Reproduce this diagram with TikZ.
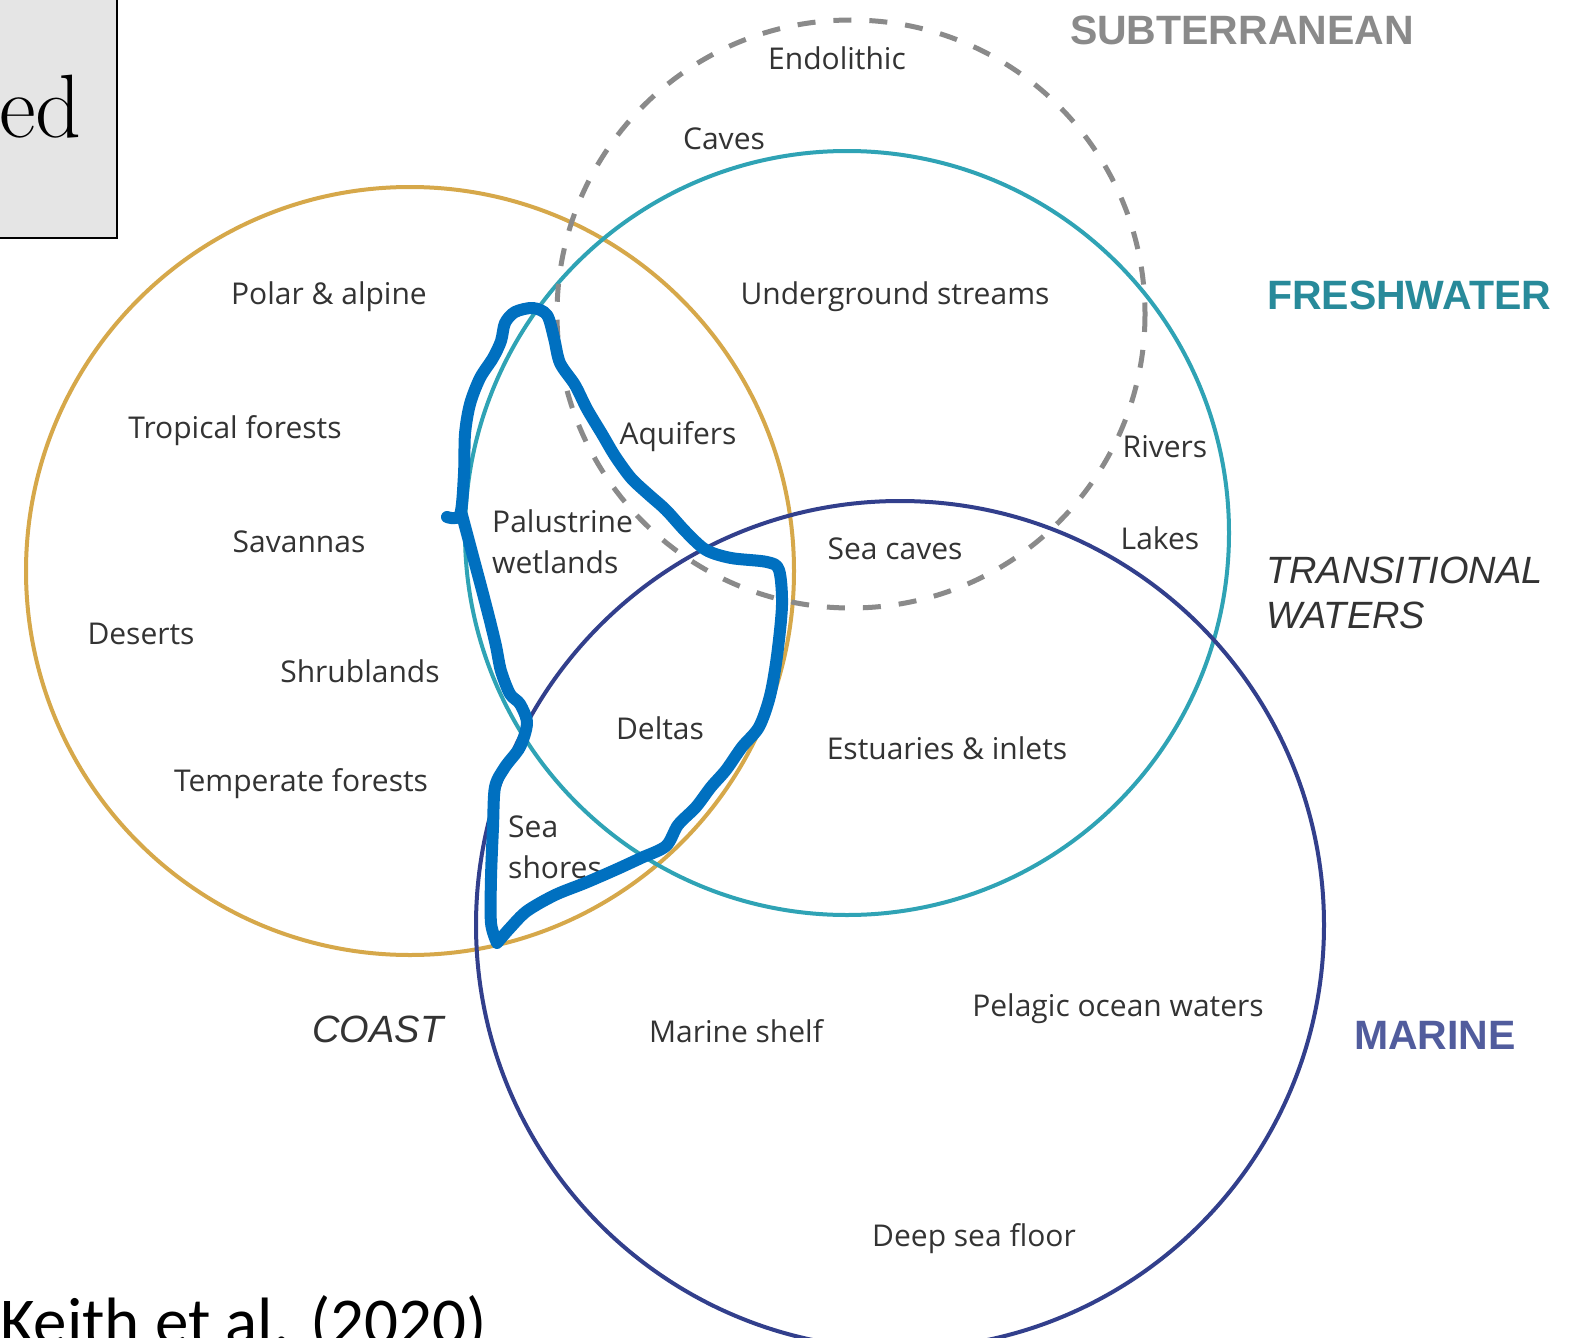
\documentclass[tikz,border=0pt]{standalone}
\usepackage{fontspec}
\usepackage{tikz}
\newfontfamily\labelfont{Open Sans}
\newfontfamily\headfont{Liberation Sans}
\newfontfamily\citefont{Carlito}
\definecolor{goldc}{HTML}{D6A84A}
\definecolor{tealc}{HTML}{2FA3B5}
\definecolor{navyc}{HTML}{323F8C}
\definecolor{cavec}{HTML}{8A8A8A}
\definecolor{penc}{HTML}{0070C0}
\definecolor{textc}{HTML}{333333}
\tikzset{
  biome/.style={line width=4pt},
  eco/.style={font=\labelfont\fontsize{30}{41}\selectfont, text=textc, inner sep=0pt, align=left},
  realm/.style={font=\headfont\bfseries\fontsize{41}{45}\selectfont, inner sep=0pt},
  zone/.style={font=\headfont\itshape\fontsize{38}{45}\selectfont, text=textc, inner sep=0pt, align=left},
  handline/.style={draw=penc, line width=12pt, line cap=round, line join=round}
}
\begin{document}
\begin{tikzpicture}[x=1pt,y=-1pt]
\useasboundingbox (0,0) rectangle (1582,1338);
\clip (0,0) rectangle (1582,1338);
\fill[white] (0,0) rectangle (1582,1338);

% slide box
\draw[fill=black!10, line width=2pt] (-10,-10) rectangle (117,238);
\node[anchor=base east, inner sep=0pt, font=\fontsize{90}{90}\selectfont] (slidetext) at (82,137) {ed};

% the four realms
\draw[biome, goldc] (410,571) circle [radius=384];
\draw[biome, tealc] (847,533) circle [radius=382];
\draw[biome, navyc] (900,925) circle [radius=424];
\draw[biome, cavec, line width=5pt, dash pattern=on 18pt off 18pt] (851,314) circle [radius=294];

% ecosystems
\node[eco] (endolithic) at (837,58) {Endolithic};
\node[eco] (caves) at (724,139) {Caves};
\node[eco] (polar) at (329,297) {Polar \& alpine};
\node[eco] (streams) at (895,297) {Underground streams};
\node[eco] (tropical) at (235,431) {Tropical forests};
\node[eco] (aquifers) at (678,437) {Aquifers};
\node[eco] (rivers) at (1165,447) {Rivers};
\node[eco, anchor=west] (palustrine) at (492,542) {Palustrine\\wetlands};
\node[eco] (savannas) at (299,542) {Savannas};
\node[eco] (seacaves) at (895,549) {Sea caves};
\node[eco] (lakes) at (1160,538) {Lakes};
\node[eco] (deserts) at (141,634) {Deserts};
\node[eco] (shrublands) at (360,671) {Shrublands};
\node[eco] (deltas) at (660,728) {Deltas};
\node[eco] (estuaries) at (947,748) {Estuaries \& inlets};
\node[eco] (temperate) at (301,784) {Temperate forests};
\node[eco, anchor=west] (seashores) at (508,847) {Sea\\shores};
\node[eco] (shelf) at (736,1031) {Marine shelf};
\node[eco] (pelagic) at (1118,1009) {Pelagic ocean waters};
\node[eco] (seafloor) at (974,1239) {Deep sea floor};

% realm labels
\node[realm, text=cavec] (subterranean) at (1242,30) {SUBTERRANEAN};
\node[realm, text=tealc!85!black] (freshwater) at (1409,295) {FRESHWATER};
\node[realm, text=navyc!85!white] (marine) at (1435,1035) {MARINE};
\node[zone, anchor=west] (transitional) at (1266,593) {TRANSITIONAL\\WATERS};
\node[zone] (coast) at (378,1029) {COAST};

% hand-drawn outline
\draw[handline] plot[smooth, tension=0.5] coordinates {
  (447,517) (460,515) (464,474) (465,434) (470,404) (480,378) (493,358)
  (501,341) (505,323) (515,312) (533,308) (547,315) (554,338) (560,363)
  (575,385) (587,409) (602,434) (615,456) (631,478) (648,494) (666,510)
  (686,532) (706,550) (731,558) (767,562) (779,570) (782,605) (777,656)
  (770,696) (759,727) (742,747) (726,770) (711,787) (696,807) (678,825)
  (666,846) (641,858) (615,870) (585,883) (555,895) (527,911) (510,928)
  (497,943)}
  -- plot[smooth, tension=0.5] coordinates {
  (497,943) (491,923) (491,878) (493,827) (495,787) (505,767) (520,747)
  (527,723) (520,704) (510,694) (501,671) (496,646) (490,621) (482,590)
  (474,560) (466,530) (462,515)};

\node[anchor=base west, inner sep=0pt, font=\citefont\fontsize{67}{67}\selectfont] (source) at (0,1344) {Keith et al. (2020)};
\end{tikzpicture}
\end{document}
